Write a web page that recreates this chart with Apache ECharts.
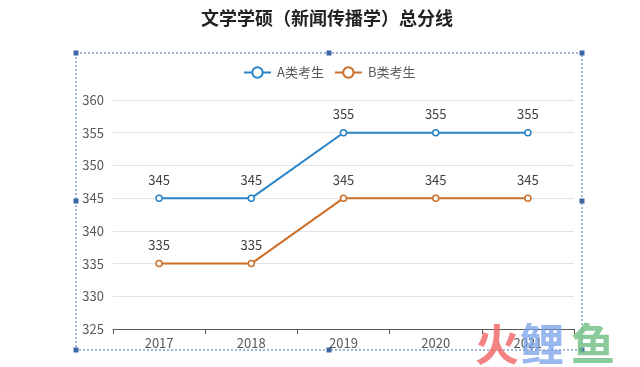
<!DOCTYPE html>
<html><head><meta charset="utf-8">
<script src="https://cdn.jsdelivr.net/npm/echarts@6/dist/echarts.min.js"></script>
<style>html,body{margin:0;padding:0;background:#fff}#c{width:640px;height:367px}</style>
</head><body><div id="c"></div>
<script>
const categories = ['2017','2018','2019','2020','2021'];
const seriesA = [345,345,355,355,355];
const seriesB = [335,335,345,345,345];
const seriesNames = ['A类考生','B类考生'];

const chart = echarts.init(document.getElementById('c'), null, {renderer:'canvas'});
const font = '"Noto Sans CJK SC", "Noto Sans", sans-serif';
const hc = '#3b67a8';
function handle(x,y){return {type:'rect',shape:{x:x-2.5,y:y-2.5,width:5,height:5},style:{fill:hc},z:10};}
chart.setOption({
  backgroundColor:'#fff',
  textStyle:{fontFamily:font},
  title:{text:'文学学硕（新闻传播学）总分线',left:196,top:4,
    textStyle:{fontSize:18,fontWeight:'bold',color:'#222',fontFamily:font}},
  legend:{top:61,left:238,itemWidth:27,itemHeight:13,itemGap:10,
    textStyle:{fontSize:13,color:'#595959',padding:[0,0,0,1]},
    itemStyle:{borderWidth:2},data:seriesNames},
  grid:{left:113,right:66,top:100,bottom:38,containLabel:false},
  xAxis:{type:'category',data:categories,boundaryGap:true,
    axisLine:{lineStyle:{color:'#595959',width:1}},
    axisTick:{show:true,length:5,lineStyle:{color:'#595959'}},
    axisLabel:{fontSize:13,color:'#595959',margin:8}},
  yAxis:{type:'value',min:325,max:360,interval:5,
    axisLine:{show:false},axisTick:{show:false},
    splitLine:{lineStyle:{color:'#e3e3e3'}},
    axisLabel:{fontSize:13,color:'#595959',margin:9}},
  series:[
    {name:seriesNames[0],type:'line',data:seriesA,color:'#2a84c8',
     symbol:'circle',symbolSize:6,itemStyle:{color:'#fff',borderColor:'#2a84c8',borderWidth:1.5},
     lineStyle:{width:2,color:'#2a84c8'},
     label:{show:true,position:'top',distance:8,fontSize:13,color:'#404040'}},
    {name:seriesNames[1],type:'line',data:seriesB,color:'#cc6f2a',
     symbol:'circle',symbolSize:6,itemStyle:{color:'#fff',borderColor:'#cc6f2a',borderWidth:1.5},
     lineStyle:{width:2,color:'#cc6f2a'},
     label:{show:true,position:'top',distance:8,fontSize:13,color:'#404040'}}
  ],
  graphic:[
    {type:'rect',shape:{x:76,y:53,width:506,height:297},style:{fill:null,stroke:'#4a6fa5',lineWidth:1,lineDash:[2,2]},z:5},
    handle(76,53),handle(329,53),handle(582,53),
    handle(76,201),handle(582,201),
    handle(76,350),handle(329,350),handle(582,350),
    {type:'text',left:475,top:322,style:{text:'火',font:'bold 44px "Noto Sans CJK SC"',fill:'rgba(240,100,100,0.8)'},z:20},
    {type:'text',left:520,top:322,style:{text:'鲤',font:'bold 44px "Noto Sans CJK SC"',fill:'rgba(120,160,235,0.75)'},z:20},
    {type:'text',left:571,top:322,style:{text:'鱼',font:'bold 44px "Noto Sans CJK SC"',fill:'rgba(110,190,130,0.8)'},z:20}
  ]
});
</script></body></html>
